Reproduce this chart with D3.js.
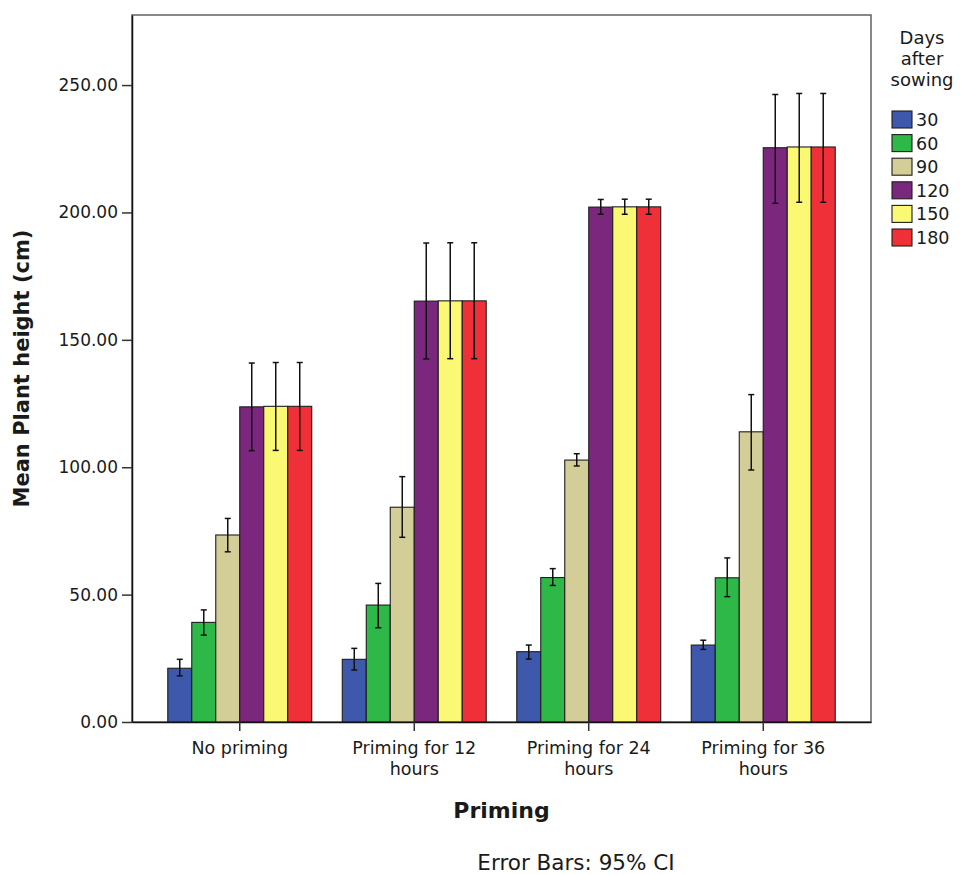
<!DOCTYPE html>
<html>
<head>
<meta charset="utf-8">
<script src="https://cdn.jsdelivr.net/npm/d3@7"></script>
<style>
  html, body { margin: 0; padding: 0; background: #fff; }
  svg { display: block; }
  text { font-family: "DejaVu Sans", sans-serif; fill: #1a1a1a; }
</style>
</head>
<body>
<svg id="chart" width="961" height="875"></svg>
<script>
// ---- Data ----
const groups = ["No priming", "Priming for 12 hours", "Priming for 24 hours", "Priming for 36 hours"];
const groupLabelLines = [["No priming"], ["Priming for 12", "hours"], ["Priming for 24", "hours"], ["Priming for 36", "hours"]];
const series = ["30", "60", "90", "120", "150", "180"];
const seriesColors = ["#3E58AC", "#2EB848", "#D3CE97", "#7B277E", "#FBF873", "#EF3038"];

// mean plant height (cm) per series, one value per priming group
const mean30  = [21.1, 24.6, 27.6, 30.2];
const mean60  = [39.1, 45.9, 56.7, 56.6];
const mean90  = [73.4, 84.3, 102.8, 113.9];
const mean120 = [123.7, 165.2, 202.1, 225.4];
const mean150 = [123.9, 165.3, 202.2, 225.7];
const mean180 = [123.9, 165.3, 202.2, 225.7];

// 95% CI lower / upper
const lo30  = [18.1, 20.4, 24.7, 28.5];
const hi30  = [24.6, 28.9, 30.2, 32.1];
const lo60  = [34.1, 37.0, 53.6, 49.2];
const hi60  = [44.0, 54.4, 60.2, 64.4];
const lo90  = [66.8, 72.5, 100.5, 98.9];
const hi90  = [79.9, 96.3, 105.3, 128.5];
const lo120 = [106.5, 142.5, 199.3, 203.6];
const hi120 = [140.9, 188.0, 205.1, 246.3];
const lo150 = [106.6, 142.6, 199.3, 204.0];
const hi150 = [141.1, 188.1, 205.2, 246.7];
const lo180 = [106.6, 142.6, 199.3, 204.0];
const hi180 = [141.1, 188.1, 205.2, 246.7];

const yTicks = [0, 50, 100, 150, 200, 250];
const yMax = 277.5;

const legendTitleLines = ["Days", "after", "sowing"];
const yTitle = "Mean Plant height (cm)";
const xTitle = "Priming";
const footer = "Error Bars: 95% CI";

// ---- Build records ----
const means = [mean30, mean60, mean90, mean120, mean150, mean180];
const los = [lo30, lo60, lo90, lo120, lo150, lo180];
const his = [hi30, hi60, hi90, hi120, hi150, hi180];
const records = [];
groups.forEach((g, gi) => {
  series.forEach((s, si) => {
    records.push({ group: g, series: s, value: means[si][gi], lo: los[si][gi], hi: his[si][gi], color: seriesColors[si] });
  });
});

// ---- Layout ----
const plot = { left: 132, right: 871, top: 15, bottom: 722 };
const svg = d3.select("#chart");

const x0 = d3.scaleBand().domain(groups).range([plot.left, plot.right]).paddingInner(0.175).paddingOuter(0.205);
const x1 = d3.scaleBand().domain(series).range([0, x0.bandwidth()]).padding(0);
const y = d3.scaleLinear().domain([0, yMax]).range([plot.bottom, plot.top]);
const color = d3.scaleOrdinal().domain(series).range(seriesColors);

// frame
svg.append("rect")
  .attr("x", plot.left).attr("y", plot.top)
  .attr("width", plot.right - plot.left).attr("height", plot.bottom - plot.top)
  .attr("fill", "none").attr("stroke", "#6b6b6b").attr("stroke-width", 1.6);

// bars
svg.append("g").selectAll("rect").data(records).join("rect")
  .attr("x", d => x0(d.group) + x1(d.series))
  .attr("y", d => y(d.value))
  .attr("width", x1.bandwidth())
  .attr("height", d => y(0) - y(d.value))
  .attr("fill", d => color(d.series))
  .attr("stroke", "#1e1e1e").attr("stroke-width", 1.1);

// error bars
const eb = svg.append("g").attr("stroke", "#111").attr("stroke-width", 1.5);
const cx = d => x0(d.group) + x1(d.series) + x1.bandwidth() / 2;
eb.selectAll("line.v").data(records).join("line").attr("class", "v")
  .attr("x1", cx).attr("x2", cx).attr("y1", d => y(d.lo)).attr("y2", d => y(d.hi));
eb.selectAll("line.t").data(records).join("line").attr("class", "t")
  .attr("x1", d => cx(d) - 3).attr("x2", d => cx(d) + 3).attr("y1", d => y(d.hi)).attr("y2", d => y(d.hi));
eb.selectAll("line.b").data(records).join("line").attr("class", "b")
  .attr("x1", d => cx(d) - 3).attr("x2", d => cx(d) + 3).attr("y1", d => y(d.lo)).attr("y2", d => y(d.lo));

// y axis
const yAxis = svg.append("g").attr("transform", `translate(${plot.left},0)`)
  .call(d3.axisLeft(y).tickValues(yTicks).tickFormat(d3.format(".2f")).tickSize(10).tickSizeOuter(0).tickPadding(4));
yAxis.select(".domain").attr("stroke", "#111").attr("stroke-width", 1.5);
yAxis.selectAll(".tick line").attr("stroke", "#333").attr("stroke-width", 1.5);
yAxis.selectAll(".tick text").style("font-family", "DejaVu Sans, sans-serif").style("font-size", "17px").attr("fill", "#1a1a1a");

// x axis
const xAxis = svg.append("g").attr("transform", `translate(0,${plot.bottom})`)
  .call(d3.axisBottom(x0).tickSize(9).tickSizeOuter(0).tickFormat(""));
xAxis.select(".domain").attr("stroke", "#111").attr("stroke-width", 1.5);
xAxis.selectAll(".tick line").attr("stroke", "#333").attr("stroke-width", 1.5);
xAxis.selectAll(".tick").each(function (d, i) {
  const t = d3.select(this).append("text")
    .attr("text-anchor", "middle")
    .style("font-size", "17.5px")
    .attr("fill", "#1a1a1a");
  groupLabelLines[i].forEach((line, li) => {
    t.append("tspan").attr("x", 0).attr("y", 32 + li * 20.5).text(line);
  });
});

// axis titles
svg.append("text")
  .attr("transform", `translate(29,${(plot.top + plot.bottom) / 2}) rotate(-90)`)
  .attr("text-anchor", "middle")
  .style("font-size", "21px").style("font-weight", "bold")
  .text(yTitle);

svg.append("text")
  .attr("x", (plot.left + plot.right) / 2).attr("y", 818)
  .attr("text-anchor", "middle")
  .style("font-size", "22px").style("font-weight", "bold")
  .text(xTitle);

svg.append("text")
  .attr("x", 576).attr("y", 870)
  .attr("text-anchor", "middle")
  .style("font-size", "21.5px")
  .text(footer);

// legend
const legend = svg.append("g");
legendTitleLines.forEach((line, i) => {
  legend.append("text")
    .attr("x", 922).attr("y", 44 + i * 21)
    .attr("text-anchor", "middle")
    .style("font-size", "18px")
    .text(line);
});
const ly = d3.scalePoint().domain(series).range([111, 229]);
const items = legend.selectAll("g.item").data(series).join("g").attr("class", "item")
  .attr("transform", d => `translate(892,${ly(d)})`);
items.append("rect").attr("width", 20).attr("height", 17)
  .attr("fill", d => color(d)).attr("stroke", "#1e1e1e").attr("stroke-width", 1.1);
items.append("text").attr("x", 24).attr("y", 15)
  .style("font-size", "17.5px").text(d => d);
</script>
</body>
</html>
